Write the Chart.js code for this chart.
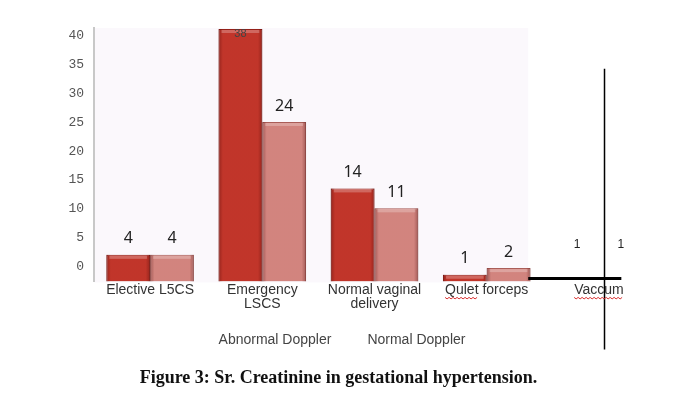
<!DOCTYPE html>
<html>
<head>
<meta charset="utf-8">
<script src="https://cdn.jsdelivr.net/npm/chart.js@4.4.1/dist/chart.umd.min.js"></script>
<style>
  html, body { margin: 0; padding: 0; background: #fff; }
  #wrap { width: 677px; height: 399px; }
</style>
</head>
<body>
<div id="wrap"><canvas id="chart" width="677" height="399"></canvas></div>
<script>
// categories and values
var categories = [["Elective L5CS"], ["Emergency", "LSCS"], ["Normal vaginal", "delivery"], "Qulet forceps", "Vaccum"];
var abnormal = [4, 38, 14, 1, 1];
var normal = [4, 24, 11, 2, 1];
var yTicks = [0, 5, 10, 15, 20, 25, 30, 35, 40];
var seriesNames = ["Abnormal Doppler", "Normal Doppler"];
var caption = "Figure 3: Sr. Creatinine in gestational hypertension.";

// the last category has no bars drawn, only the numbers
var hiddenIndex = 4;
// words with the red spell-check squiggle: [category, word]
var squiggles = [[3, "Qulet"], [4, "Vaccum"]];

var labelFont = "14px 'Liberation Sans'";

//bar fill, hides the vaccum bars
function fill(col) {
    return function (ctx) {
        return ctx.dataIndex == hiddenIndex ? "rgba(0,0,0,0)" : col;
    };
}

// plot background + stray lines from the scanned figure
var backdrop = {
    id: "backdrop",
    beforeDraw: function (chart) {
        var c = chart.ctx, a = chart.chartArea, x = chart.scales.x;
        c.save();
        c.fillStyle = "#fbf8fc";
        c.fillRect(a.left, a.top, x.getPixelForValue(3.37) - a.left, a.bottom - a.top + 1);
        c.restore();
    },
    afterDraw: function (chart) {
        var c = chart.ctx, a = chart.chartArea, x = chart.scales.x, y = chart.scales.y;
        c.save();
        c.strokeStyle = "#000";
        c.lineWidth = 3;
        c.beginPath();
        c.moveTo(x.getPixelForValue(3.37), y.getPixelForValue(0.45));
        c.lineTo(x.getPixelForValue(4.2), y.getPixelForValue(0.45));
        c.stroke();
        c.lineWidth = 1.5;
        c.beginPath();
        c.moveTo(x.getPixelForValue(4.05), y.getPixelForValue(32));
        c.lineTo(x.getPixelForValue(4.05), a.bottom + 68);
        c.stroke();

        // red wavy underline under misspelt words
        c.font = labelFont;
        c.strokeStyle = "#d83030";
        c.lineWidth = 1;
        squiggles.forEach(function (s) {
            var full = categories[s[0]];
            var cx = x.getPixelForValue(s[0]);
            var left = cx - c.measureText(full).width / 2;
            var w = c.measureText(s[1]).width;
            var yy = a.bottom + 16;
            c.beginPath();
            for (var p = 0; p <= w; p += 2) {
                var py = yy + ((p / 2) % 2 == 0 ? 0 : 1.5);
                if (p == 0) c.moveTo(left + p, py); else c.lineTo(left + p, py);
            }
            c.stroke();
        });
        c.restore();
    }
};

// bevel shading on the bars + numbers above them
var valueLabels = {
    id: "valueLabels",
    afterDatasetsDraw: function (chart) {
        var c = chart.ctx, a = chart.chartArea;
        c.save();
        chart.data.datasets.forEach(function (ds, di) {
            var meta = chart.getDatasetMeta(di);
            meta.data.forEach(function (bar, i) {
                if (i == hiddenIndex) return;
                var l = bar.x - bar.width / 2, w = bar.width, h = bar.base - bar.y;
                var g = c.createLinearGradient(l, 0, l + w, 0);
                g.addColorStop(0, "rgba(60,0,0,0.35)");
                g.addColorStop(0.1, "rgba(60,0,0,0.05)");
                g.addColorStop(0.9, "rgba(60,0,0,0.05)");
                g.addColorStop(1, "rgba(60,0,0,0.35)");
                c.fillStyle = g;
                c.fillRect(l, bar.y, w, h);
                c.fillStyle = "rgba(255,255,255,0.25)";
                c.fillRect(l + 3, bar.y + 1, w - 6, Math.min(3, h - 1));
            });
        });
        c.textAlign = "center";
        c.textBaseline = "bottom";
        chart.data.datasets.forEach(function (ds, di) {
            var meta = chart.getDatasetMeta(di);
            meta.data.forEach(function (bar, i) {
                var ty = bar.y - 8;
                c.fillStyle = "#222";
                c.font = "16px 'Noto Sans'";
                if (i == hiddenIndex) {
                    ty = bar.y - 24;
                    c.font = "12px 'Liberation Sans'";
                }
                if (ty < a.top + 8) {
                    ty = a.top + 11;
                    c.font = "11px 'Liberation Sans'";
                    c.fillStyle = "#444";
                }
                c.fillText(ds.data[i], bar.x, ty);
            });
        });
        c.restore();
    }
};

var ctx = document.getElementById("chart").getContext("2d");
var chart = new Chart(ctx, {
    type: "bar",
    data: {
        labels: categories,
        datasets: [{
            label: seriesNames[0],
            data: abnormal,
            backgroundColor: fill("#c8382c"),
            borderColor: fill("#9a2219"),
            borderWidth: 1,
            yAxisID: "y"
        }, {
            label: seriesNames[1],
            data: normal,
            backgroundColor: fill("#da8b85"),
            borderColor: fill("#b0625c"),
            borderWidth: 1,
            yAxisID: "y"
        }]
    },
    options: {
        responsive: false,
        animation: false,
        layout: { padding: { top: 28, right: 11, bottom: 10, left: 11 } },
        categoryPercentage: 0.78,
        barPercentage: 1.0,
        scales: {
            x: {
                grid: { display: false, drawTicks: false },
                border: { display: false },
                ticks: {
                    color: "#333",
                    font: { family: "'Liberation Sans'", size: 14, lineHeight: 1.05 },
                    padding: 1,
                    maxRotation: 0,
                    autoSkip: false
                },
                afterFit: function (s) { s.height = 44; }
            },
            y: {
                display: false,
                min: 0,
                max: 38.15
            },
            y2: {
                position: "left",
                min: -2.6,
                max: 41.39,
                grid: { display: false, drawTicks: false },
                border: { display: true, color: "#c8c8c8", width: 2 },
                afterBuildTicks: function (s) {
                    s.ticks = yTicks.map(function (v) { return { value: v }; });
                },
                ticks: {
                    color: "#555",
                    font: { family: "'Liberation Mono'", size: 13 },
                    padding: 10
                },
                afterFit: function (s) { s.width = 83; }
            },
            // empty right axis, only keeps space on the right
            y3: {
                position: "right",
                grid: { display: false },
                border: { display: false },
                ticks: { display: false },
                afterFit: function (s) { s.width = 11; }
            }
        },
        plugins: {
            legend: {
                position: "bottom",
                labels: {
                    boxWidth: 0,
                    boxHeight: 0,
                    padding: 8,
                    color: "#444",
                    font: { family: "'Liberation Sans'", size: 14 },
                    generateLabels: function (chart) {
                        return chart.data.datasets.map(function (ds, i) {
                            return {
                                text: i == 0 ? ds.label + "\u2002\u2002\u2002" : ds.label,
                                fillStyle: "rgba(0,0,0,0)",
                                strokeStyle: "rgba(0,0,0,0)",
                                lineWidth: 0,
                                fontColor: "#444",
                                datasetIndex: i
                            };
                        });
                    }
                }
            },
            title: {
                display: true,
                position: "bottom",
                text: caption,
                color: "#111",
                font: { family: "'Liberation Serif'", size: 18, weight: "bold" },
                padding: { top: 10, bottom: 0 }
            },
            tooltip: { enabled: false }
        }
    },
    plugins: [backdrop, valueLabels]
});
</script>
</body>
</html>
